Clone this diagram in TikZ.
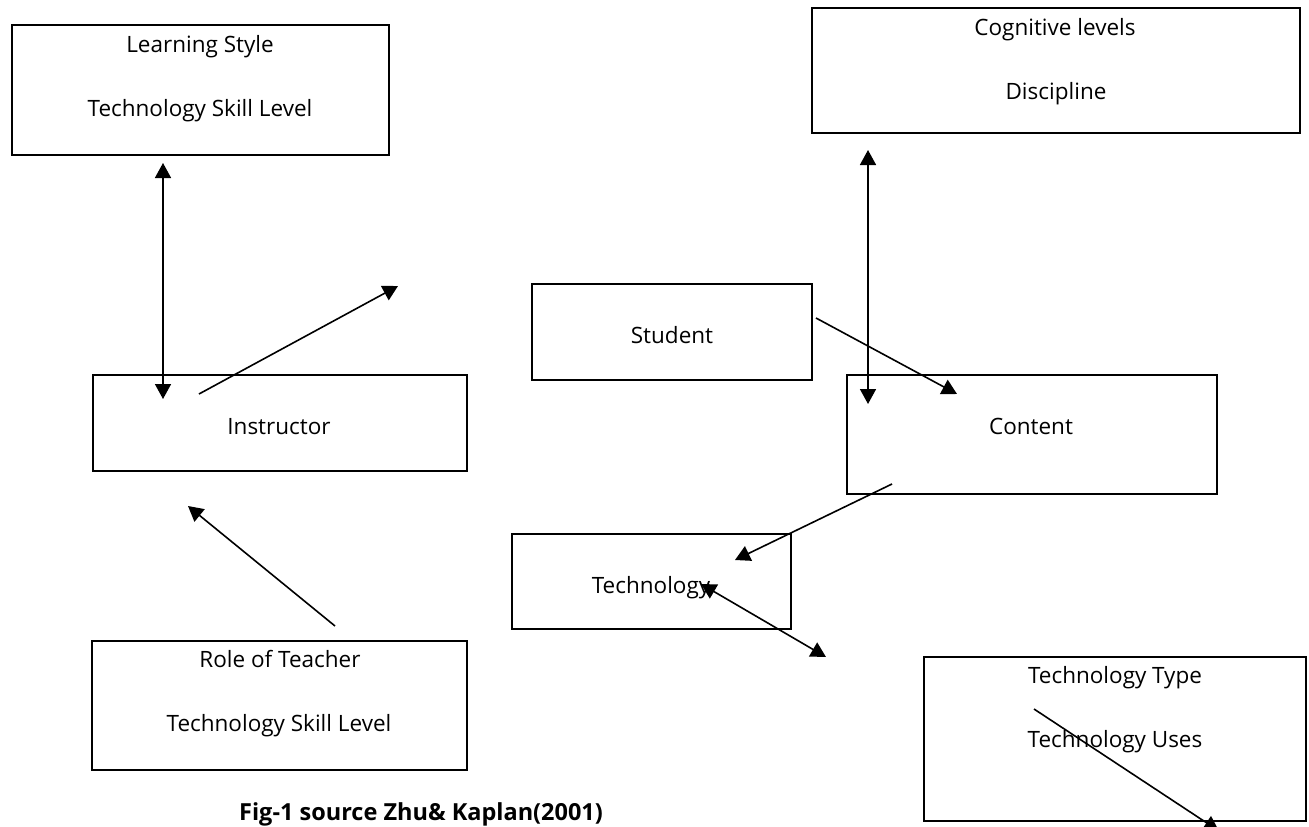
\documentclass[tikz,border=0pt]{standalone}
\usepackage{fontspec}
\setmainfont{Open Sans}
\usetikzlibrary{arrows.meta}
\begin{document}
\begin{tikzpicture}[x=1pt,y=-1pt,
  box/.style={draw,line width=2.2pt,inner sep=0pt,outer sep=0pt},
  lbl/.style={font=\fontsize{22.5}{27}\selectfont,inner sep=0pt,anchor=base},
  captxt/.style={font=\bfseries\fontsize{23.5}{28}\selectfont,inner sep=0pt,anchor=base},
  conn/.style={line width=1.6pt,-{Triangle[length=15pt,width=16pt]}},
  dconn/.style={line width=1.6pt,{Triangle[length=15pt,width=16pt]}-{Triangle[length=15pt,width=16pt]}}]
\path[use as bounding box,clip] (0,0) rectangle (1309,827);

% boxes
\node[box,minimum width=377pt,minimum height=130pt] (ls) at (200.5,90) {};
\node[box,minimum width=374pt,minimum height=96pt] (instr) at (280,423) {};
\node[box,minimum width=375pt,minimum height=129pt] (role) at (279.5,705.5) {};
\node[box,minimum width=280pt,minimum height=96pt] (stud) at (672,332) {};
\node[box,minimum width=488pt,minimum height=125pt] (cog) at (1056,70.5) {};
\node[box,minimum width=370pt,minimum height=119pt] (cont) at (1032,434.5) {};
\node[box,minimum width=279pt,minimum height=95pt] (tech) at (651.5,581.5) {};
\node[box,minimum width=382pt,minimum height=164pt] (ttype) at (1115,739) {};

% texts
\node[lbl] (lsA) at (200,52) {Learning Style};
\node[lbl] (lsB) at (200,116) {Technology Skill Level};
\node[lbl] (cogA) at (1055,35) {Cognitive levels};
\node[lbl] (cogB) at (1056,99) {Discipline};
\node[lbl] (instrT) at (279,434) {Instructor};
\node[lbl] (roleA) at (280,667) {Role of Teacher};
\node[lbl] (roleB) at (279,731) {Technology Skill Level};
\node[lbl] (studT) at (672,343) {Student};
\node[lbl] (contT) at (1031,434) {Content};
\node[lbl] (techT) at (651,593) {Technology};
\node[lbl] (ttA) at (1115,683) {Technology Type};
\node[lbl] (ttB) at (1115,747) {Technology Uses};
\node[captxt] (caption) at (421,820) {Fig-1 source Zhu\& Kaplan(2001)};

% connector end points
\coordinate (a1) at (163,163);  \coordinate (a2) at (163,399);
\coordinate (b1) at (199,394);  \coordinate (b2) at (398,286);
\coordinate (c1) at (335,626);  \coordinate (c2) at (188,506);
\coordinate (d1) at (816,318);  \coordinate (d2) at (957,394);
\coordinate (e1) at (868,150);  \coordinate (e2) at (868,404);
\coordinate (f1) at (892,484);  \coordinate (f2) at (735,560);
\coordinate (g1) at (701,584);  \coordinate (g2) at (826,657);
\coordinate (h1) at (1034,709); \coordinate (h2) at (1219,831);

% connectors
\draw[dconn] (a1) -- (a2);
\draw[conn] (b1) -- (b2);
\draw[conn] (c1) -- (c2);
\draw[conn] (d1) -- (d2);
\draw[dconn] (e1) -- (e2);
\draw[conn] (f1) -- (f2);
\draw[dconn] (g1) -- (g2);
\draw[conn] (h1) -- (h2);
\end{tikzpicture}
\end{document}
